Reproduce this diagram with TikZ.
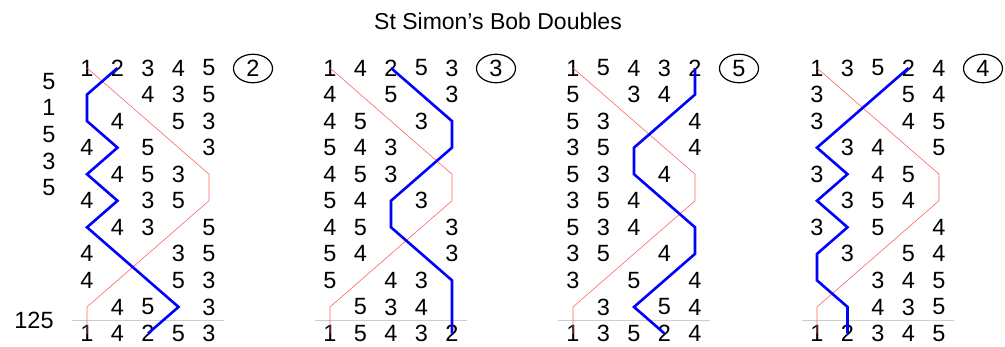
\documentclass[tikz,border=0pt]{standalone}
\usepackage{fontspec}
\setmainfont{Liberation Sans}
\usepackage{tikz}
\usetikzlibrary{shapes.geometric}
\definecolor{treblered}{RGB}{255,100,100}
\definecolor{rulegrey}{RGB}{205,205,205}
\tikzset{
  bell/.style={inner sep=0pt, font=\fontsize{23.5}{28}\selectfont},
  treble/.style={treblered, line width=0.6pt},
  work/.style={blue, line width=2.6pt},
  leadend/.style={rulegrey, line width=0.8pt},
  startbell/.style={bell, ellipse, draw, line width=1.2pt, minimum width=39pt, minimum height=28.5pt}
}
% #1 lead name, #2 x of first place, #3 circled bell, #4 rows
\newcommand{\drawlead}[4]{
  \foreach \row [count=\r from 0] in {#4} {
    \foreach \d [count=\c from 0] in \row {
      \node[bell] (#1-\r-\d) at ({#2+30.5*\c},{-68-26.55*\r})
        {\ifnum\d>2 \d\else\ifnum\r=0 \d\else\ifnum\r=10 \d\fi\fi\fi};
    }
  }
  \node[startbell] (#1-start) at ({#2+166},-68.5) {#3};
  \coordinate (#1-endl) at ({#2-15},{-68-26.55*9.5});
  \coordinate (#1-endr) at ({#2+137},{-68-26.55*9.5});
  \draw[leadend] (#1-endl) -- (#1-endr);
  \draw[treble] (#1-0-1.center) \foreach \r in {1,...,10} { -- (#1-\r-1.center) };
  \draw[work] (#1-0-2.center) \foreach \r in {1,...,10} { -- (#1-\r-2.center) };
}

\begin{document}
\begin{tikzpicture}[x=1pt,y=1pt]
  \useasboundingbox (0,0) rectangle (1005,-346);
  \node[bell, font=\fontsize{23}{28}\selectfont, anchor=base] (title) at (498,-29) {St Simon’s Bob Doubles};

  % place notation and bob
  \foreach \p [count=\i from 0] in {5,1,5,3,5}
    \node[bell] (pn-\i) at (49,{-68-26.55*(\i+0.5)}) {\p};
  \node[bell] (bob) at (34,{-68-26.55*9.5}) {125};

  \drawlead{la}{87}{2}{{1,2,3,4,5},{2,1,4,3,5},{2,4,1,5,3},{4,2,5,1,3},{2,4,5,3,1},{4,2,3,5,1},
    {2,4,3,1,5},{4,2,1,3,5},{4,1,2,5,3},{1,4,5,2,3},{1,4,2,5,3}}
  \drawlead{lb}{330}{3}{{1,4,2,5,3},{4,1,5,2,3},{4,5,1,3,2},{5,4,3,1,2},{4,5,3,2,1},{5,4,2,3,1},
    {4,5,2,1,3},{5,4,1,2,3},{5,1,4,3,2},{1,5,3,4,2},{1,5,4,3,2}}
  \drawlead{lc}{573}{5}{{1,5,4,3,2},{5,1,3,4,2},{5,3,1,2,4},{3,5,2,1,4},{5,3,2,4,1},{3,5,4,2,1},
    {5,3,4,1,2},{3,5,1,4,2},{3,1,5,2,4},{1,3,2,5,4},{1,3,5,2,4}}
  \drawlead{ld}{817}{4}{{1,3,5,2,4},{3,1,2,5,4},{3,2,1,4,5},{2,3,4,1,5},{3,2,4,5,1},{2,3,5,4,1},
    {3,2,5,1,4},{2,3,1,5,4},{2,1,3,4,5},{1,2,4,3,5},{1,2,3,4,5}}
\end{tikzpicture}
\end{document}
